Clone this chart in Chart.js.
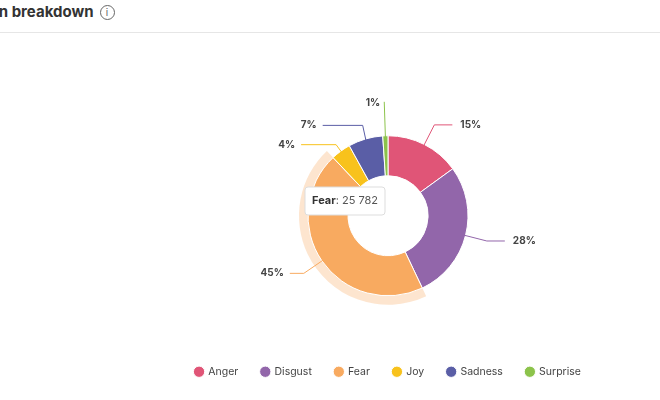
<!DOCTYPE html>
<html><head><meta charset="utf-8">
<script src="https://cdn.jsdelivr.net/npm/chart.js@4"></script>
<style>
body{margin:0;width:660px;height:400px;background:#fff;overflow:hidden;font-family:Inter,"Open Sans",sans-serif;position:relative}
#title{position:absolute;left:-52px;top:2px;font-size:15px;font-weight:700;color:#333;white-space:nowrap}
#info{display:inline-block;width:13px;height:13px;border:1.3px solid #666;border-radius:50%;font-size:10px;line-height:13px;text-align:center;color:#666;font-weight:400;margin-left:6px;vertical-align:1px}
#line{position:absolute;left:0;top:32px;width:660px;height:1px;background:#e6e6e6}
#wrap{position:absolute;left:118px;top:40px;width:540px;height:360px}
</style></head><body>
<div id="title">Emotion breakdown<span id="info">i</span></div>
<div id="line"></div>
<div id="wrap"><canvas id="c"></canvas></div>
<script>
// dữ liệu
let labels = ["Anger","Disgust","Fear","Joy","Sadness","Surprise"];
let values = [8600,16000,25782,2300,4000,600];
let colors = ["#e05577","#9266aa","#f8aa60","#f8c21c","#5a5ea6","#8cc34b"];
let percents = ["15%","28%","45%","4%","7%","1%"];
let hoverIndex = 2;

// nhãn % + đường dẫn
let outLabels = {
id:"outLabels",
beforeDatasetsDraw(chart){
let a = chart.getDatasetMeta(0).data[hoverIndex];
let ctx = chart.ctx;
ctx.save();
ctx.beginPath();
ctx.arc(a.x,a.y,a.outerRadius+9,a.startAngle,a.endAngle);
ctx.arc(a.x,a.y,a.outerRadius,a.endAngle,a.startAngle,true);
ctx.closePath();
ctx.fillStyle="rgba(248,170,96,0.3)";
ctx.fill();
ctx.restore();
},
afterDatasetsDraw(chart){
let ctx = chart.ctx;
let arcs = chart.getDatasetMeta(0).data;
ctx.save();
ctx.font="bold 10px Inter";
ctx.textBaseline="middle";
arcs.forEach((a,i)=>{
let mid=(a.startAngle+a.endAngle)/2;
let cos=Math.cos(mid),sin=Math.sin(mid);
let r=a.outerRadius;
let x1=a.x+cos*(r-2),y1=a.y+sin*(r-2);
let x2=a.x+cos*(r+22),y2=a.y+sin*(r+22);
if(i==5){x2=a.x+cos*(r+34);y2=a.y+sin*(r+34);}
if(i==4){x2=a.x+cos*(r+10);y2=a.y+sin*(r+10)-4;}
if(i==3){x2=a.x+cos*(r+8);y2=a.y+sin*(r+8);}
let right=cos>=0 && i!=5;
let x3=x2+(right?18:-40);
if(i==3) x3=x2-35;
if(i==2) x3=x2-14;
if(i==5) x3=x2;
ctx.strokeStyle=colors[i];
ctx.lineWidth=1;
ctx.beginPath();ctx.moveTo(x1,y1);ctx.lineTo(x2,y2);ctx.lineTo(x3,y2);ctx.stroke();
ctx.fillStyle="#444";
if(i==5){ctx.textAlign="right";ctx.fillText(percents[i],x2-4,y2+1);}
else{ctx.textAlign=right?"left":"right";ctx.fillText(percents[i],x3+(right?8:-6),y2);}
});
// tooltip
let tx=187,ty=147;
ctx.fillStyle="#fff";ctx.strokeStyle="#ddd";
ctx.beginPath();ctx.roundRect(tx,ty,80,28,3);ctx.fill();ctx.stroke();
ctx.textAlign="left";ctx.fillStyle="#333";
ctx.font="bold 11px Inter";ctx.fillText("Fear",tx+7,ty+14);
let w=ctx.measureText("Fear").width;
ctx.font="11px Inter";ctx.fillStyle="#555";
ctx.fillText(": 25 782",tx+7+w,ty+14);
ctx.restore();
}
};

new Chart(document.getElementById("c"),{
type:"doughnut",
data:{labels:labels,datasets:[{data:values,backgroundColor:colors,borderColor:"#fff",borderWidth:1,radius:80,cutout:"50%"}]},
options:{
responsive:true,maintainAspectRatio:false,animation:false,
layout:{padding:{top:48,bottom:13}},
plugins:{
tooltip:{enabled:false},
legend:{position:"bottom",labels:{usePointStyle:true,pointStyle:"circle",boxWidth:8,boxHeight:8,padding:23,color:"#444",font:{family:"Inter",size:10.5}}}
}
},
plugins:[outLabels]
});
</script>
</body></html>
